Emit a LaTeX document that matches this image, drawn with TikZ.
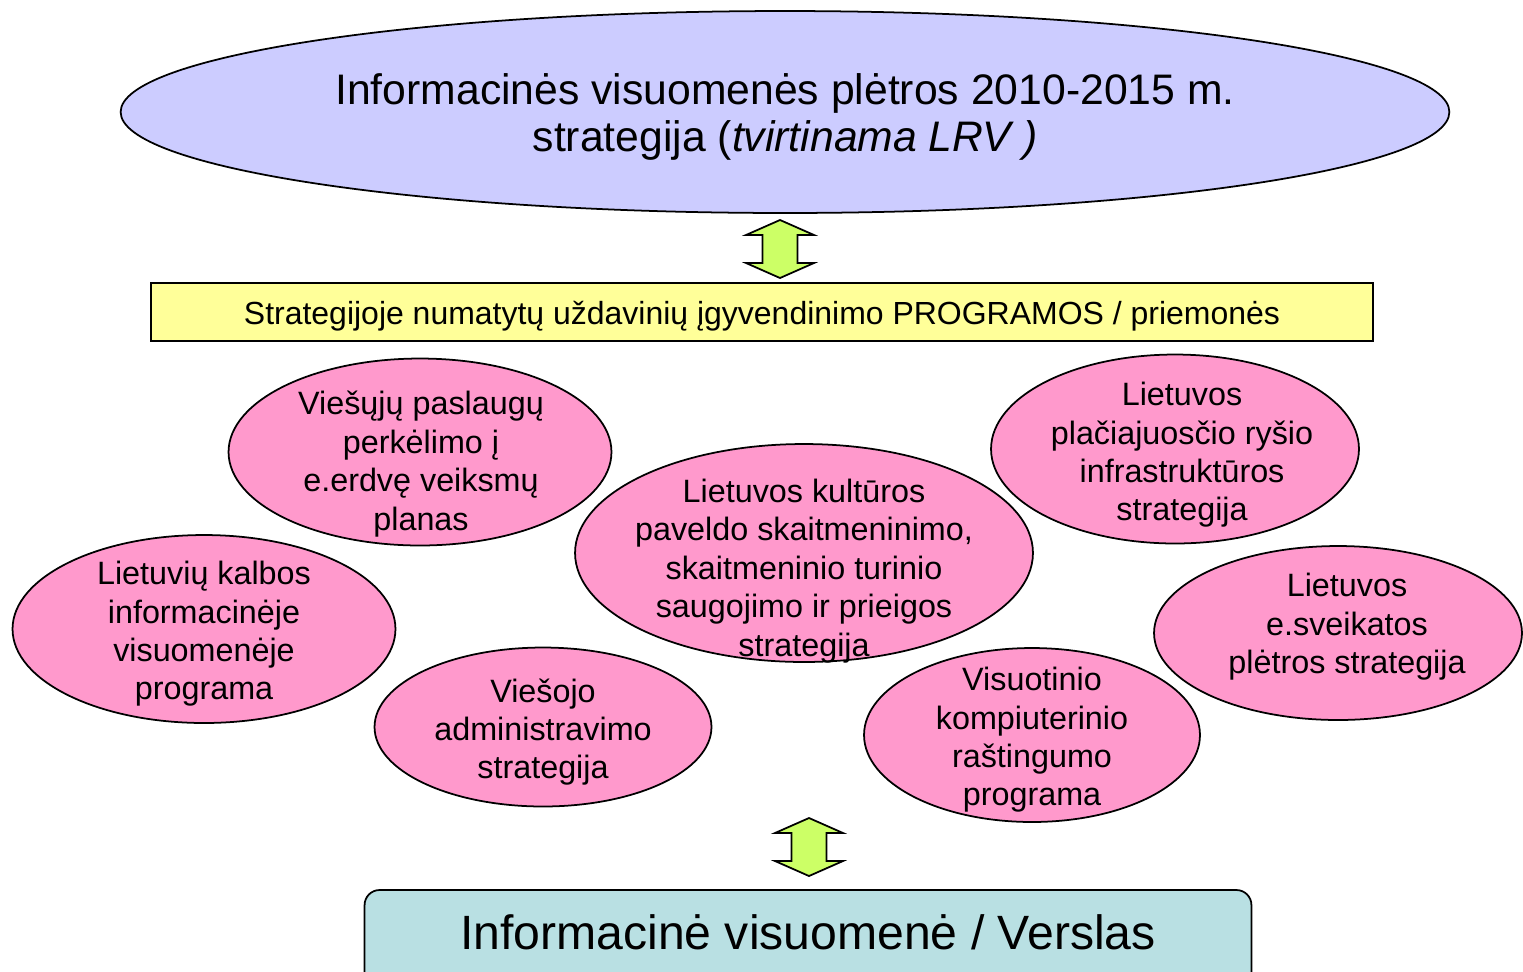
\documentclass[tikz,border=0pt]{standalone}
\usepackage{fontspec}
\setmainfont{Liberation Sans}
\usetikzlibrary{shapes.geometric}
\definecolor{lavender}{RGB}{204,204,255}
\definecolor{bubblepink}{RGB}{255,153,204}
\definecolor{paleyellow}{RGB}{255,255,153}
\definecolor{arrowgreen}{RGB}{204,255,102}
\definecolor{paleteal}{RGB}{185,224,227}
\tikzset{
  bubble/.style={draw, ellipse, fill=bubblepink, line width=1pt, inner sep=0pt},
  bubtext/.style={align=center, font=\fontsize{18.4}{21.85}\selectfont},
}
\begin{document}
\begin{tikzpicture}[x=0.02cm, y=-0.02cm]
\useasboundingbox (0,0) rectangle (1523,971);
\clip (0,0) rectangle (1523,971);
% strategy on top
\node [draw, ellipse, fill=lavender, line width=1pt, inner sep=0pt,
  minimum width=26.58cm, minimum height=4.04cm] (strat) at (785,112) {};
\node [align=center, font=\fontsize{24.3}{26.7}\selectfont] (strat-t) at (785,117)
  {Informacinės visuomenės plėtros 2010-2015 m.\\ strategija (\textit{tvirtinama LRV )}};
% programs bar
\node [draw, fill=paleyellow, line width=0.8pt, minimum width=24.44cm, minimum height=1.16cm] (prog) at (762,312) {};
\node [font=\fontsize{18.2}{21}\selectfont] (prog-t) at (762,316)
  {Strategijoje numatytų uždavinių įgyvendinimo PROGRAMOS / priemonės};
% block arrows
\foreach \cx/\cy in {780/249, 809/847}{
  \draw [fill=arrowgreen, line width=1pt, line join=miter]
    (\cx,\cy-29) -- (\cx+34,\cy-14) -- (\cx+17.5,\cy-14) -- (\cx+17.5,\cy+14)
    -- (\cx+34,\cy+14) -- (\cx,\cy+29) -- (\cx-34,\cy+14) -- (\cx-17.5,\cy+14)
    -- (\cx-17.5,\cy-14) -- (\cx-34,\cy-14) -- cycle;
}
% programs
\node [bubble, minimum width=7.66cm, minimum height=3.74cm] (viesuj) at (420,452) {};
\node [bubtext] (viesuj-t) at (421,464) {Viešųjų paslaugų\\ perkėlimo į\\ e.erdvę veiksmų\\ planas};
\node [bubble, minimum width=7.36cm, minimum height=3.78cm] (placiaj) at (1175,449) {};
\node [bubtext] (placiaj-t) at (1182,455) {Lietuvos\\ plačiajuosčio ryšio\\ infrastruktūros\\ strategija};
\node [bubble, minimum width=9.16cm, minimum height=4.36cm] (kult) at (804,553) {};
\node [bubtext] (kult-t) at (804,571) {Lietuvos kultūros\\ paveldo skaitmeninimo,\\ skaitmeninio turinio\\ saugojimo ir prieigos\\ strategija};
\node [bubble, minimum width=7.66cm, minimum height=3.76cm] (kalbos) at (204,629) {};
\node [bubtext] (kalbos-t) at (204,634) {Lietuvių kalbos\\ informacinėje\\ visuomenėje\\ programa};
\node [bubble, minimum width=7.36cm, minimum height=3.48cm] (sveik) at (1338,633) {};
\node [bubtext] (sveik-t) at (1347,627) {Lietuvos\\ e.sveikatos\\ plėtros strategija};
\node [bubble, minimum width=6.74cm, minimum height=3.18cm] (admin) at (543,727) {};
\node [bubtext] (admin-t) at (543,732) {Viešojo\\ administravimo\\ strategija};
\node [bubble, minimum width=6.72cm, minimum height=3.48cm] (rast) at (1032,735) {};
\node [bubtext] (rast-t) at (1032,740) {Visuotinio\\ kompiuterinio\\ raštingumo\\ programa};
% society / business
\node [draw, fill=paleteal, line width=1pt, rounded corners=0.3cm,
  minimum width=17.74cm, minimum height=2cm] (soc) at (808,940) {};
\node [font=\fontsize{27.4}{31}\selectfont] (soc-t) at (808,932) {Informacinė visuomenė / Verslas};
\end{tikzpicture}
\end{document}
